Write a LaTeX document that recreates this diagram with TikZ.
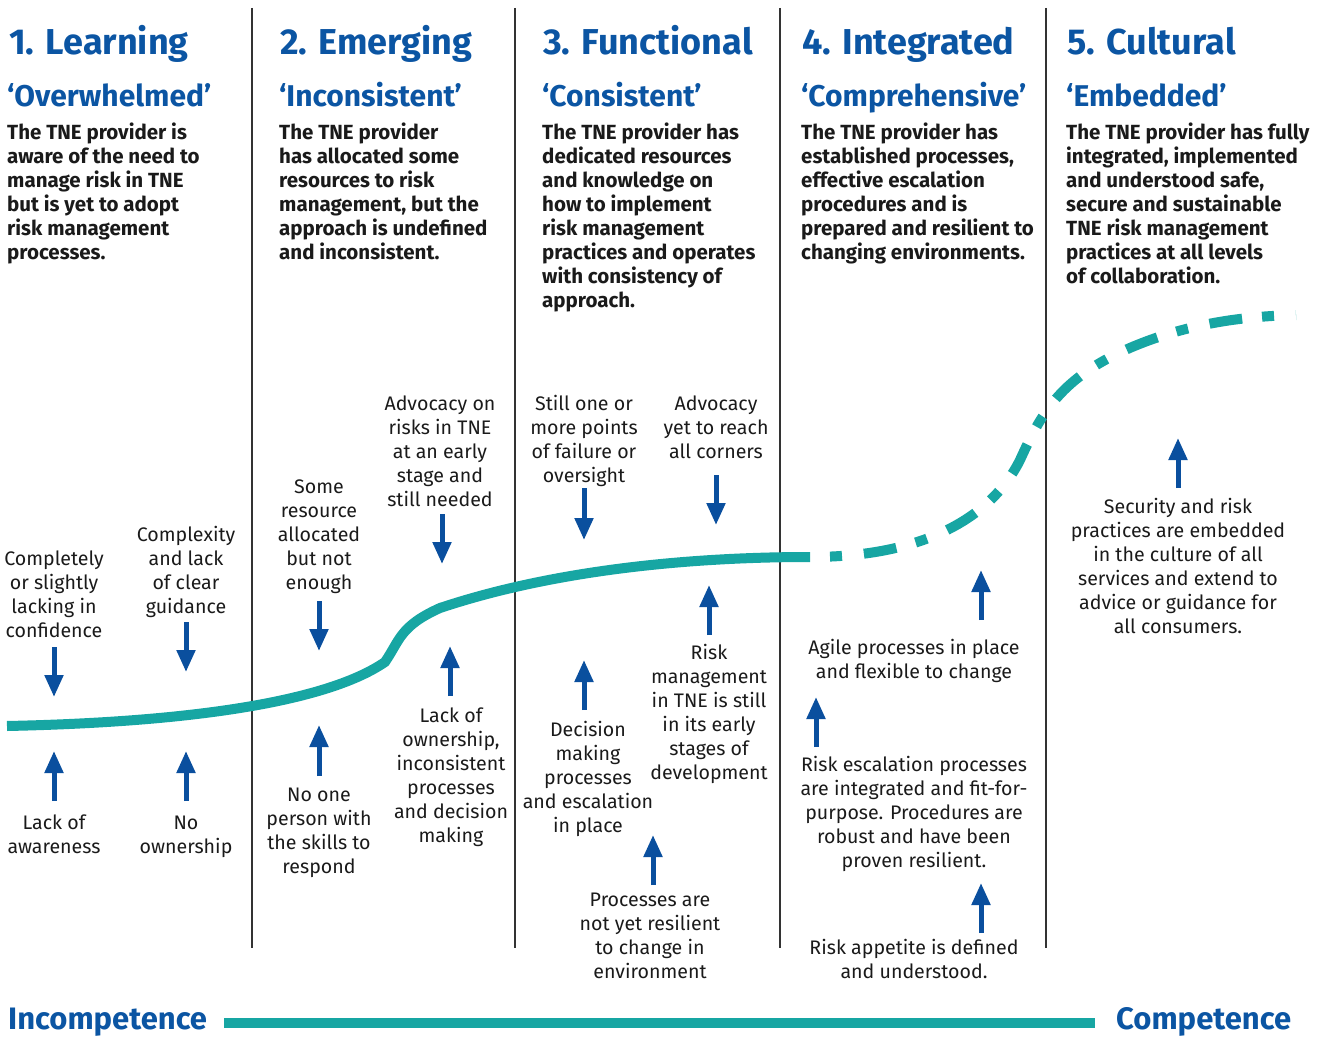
\documentclass[tikz,border=0pt]{standalone}
\usepackage{fontspec}
\setmainfont{Fira Sans}
\usetikzlibrary{arrows.meta}
\definecolor{tblue}{HTML}{0B55A3}
\definecolor{tealc}{HTML}{17A6A3}
\definecolor{ablue}{HTML}{0A4F9E}
\definecolor{txt}{HTML}{1A1A1A}
\begin{document}
\begin{tikzpicture}[x=1pt,y=-1pt,
 title/.style={font=\fontsize{36}{40}\selectfont\bfseries, text=tblue, anchor=base west, inner sep=0},
 subtitle/.style={font=\fontsize{30}{34}\selectfont\bfseries, text=tblue, anchor=base west, inner sep=0},
 desc/.style={font=\fontsize{20.5}{24}\selectfont\bfseries, text=txt, anchor=north west, align=left, inner sep=0},
 lbl/.style={font=\fontsize{19.6}{24}\selectfont, text=txt, anchor=north, align=center, inner sep=0},
 endlbl/.style={font=\fontsize{31}{34}\selectfont\bfseries, text=tblue, anchor=base west, inner sep=0},
 arr/.style={draw=ablue, line width=5pt, -{Triangle[width=18pt,length=22pt,fill=ablue]}},
 curvesolid/.style={draw=tealc, line width=10pt},
 curvedash/.style={draw=tealc, line width=10pt, dash pattern=on 33pt off 20pt on 12pt off 22pt, dash phase=33pt},
 divider/.style={draw=black!80, line width=1.3pt}
]
\path[use as bounding box] (0,0) rectangle (1328,1038);

% dividers
\foreach \i/\x in {1/252,2/515,3/780,4/1046}{
  \coordinate (dt\i) at (\x,8);
  \coordinate (db\i) at (\x,948);
  \draw[divider] (dt\i) -- (db\i);
}

% titles
\node[title] (t1) at (9,55) {1. Learning};
\node[title] (t2) at (280,55) {2. Emerging};
\node[title] (t3) at (543,55) {3. Functional};
\node[title] (t4) at (802,55) {4. Integrated};
\node[title] (t5) at (1067,55) {5. Cultural};

\node[subtitle] (s1) at (7,107) {‘Overwhelmed’};
\node[subtitle] (s2) at (279,107) {‘Inconsistent’};
\node[subtitle] (s3) at (542,107) {‘Consistent’};
\node[subtitle] (s4) at (801,107) {‘Comprehensive’};
\node[subtitle] (s5) at (1066,107) {‘Embedded’};

\node[desc] (d1) at (7,122) {\strut The TNE provider is\\aware of the need to\\manage risk in TNE\\but is yet to adopt\\risk management\\processes.};
\node[desc] (d2) at (279,122) {\strut The TNE provider\\has allocated some\\resources to risk\\management, but the\\approach is undefined\\and inconsistent.};
\node[desc] (d3) at (542,122) {\strut The TNE provider has\\dedicated resources\\and knowledge on\\how to implement\\risk management\\practices and operates\\with consistency of\\approach.};
\node[desc] (d4) at (801,122) {\strut The TNE provider has\\established processes,\\effective escalation\\procedures and is\\prepared and resilient to\\changing environments.};
\node[desc] (d5) at (1066,122) {\strut The TNE provider has fully\\integrated, implemented\\and understood safe,\\secure and sustainable\\TNE risk management\\practices at all levels\\of collaboration.};

% curve
\coordinate (c0) at (7,726);
\coordinate (c1) at (385,662);
\coordinate (c2) at (440,608);
\coordinate (c3) at (810,557);
\coordinate (c4) at (1020,460);
\coordinate (c5) at (1150,340);
\coordinate (c6) at (1296,315);
\draw[curvesolid] (c0) .. controls (200,722) and (330,700) .. (c1)
  .. controls (400,640) and (400,626) .. (c2)
  .. controls (560,568) and (700,557) .. (c3);
\draw[curvedash] (c3) .. controls (920,557) and (990,520) .. (c4)
  .. controls (1042,412) and (1062,372) .. (c5)
  .. controls (1200,322) and (1250,316) .. (c6);

% labels
\node[lbl] (l1) at (54,548) {\strut Completely\\or slightly\\lacking in\\confidence};
\node[lbl] (l2) at (186,524) {\strut Complexity\\and lack\\of clear\\guidance};
\node[lbl] (l3) at (54,812) {\strut Lack of\\awareness};
\node[lbl] (l4) at (186,812) {\strut No\\ownership};
\node[lbl] (l5) at (319,476) {\strut Some\\resource\\allocated\\but not\\enough};
\node[lbl] (l6) at (319,784) {\strut No one\\person with\\the skills to\\respond};
\node[lbl] (l7) at (440,393) {\strut Advocacy on\\risks in TNE\\at an early\\stage and\\still needed};
\node[lbl] (l8) at (451,705) {\strut Lack of\\ownership,\\inconsistent\\processes\\and decision\\making};
\node[lbl] (l9) at (584,393) {\strut Still one or\\more points\\of failure or\\oversight};
\node[lbl] (l10) at (716,393) {\strut Advocacy\\yet to reach\\all corners};
\node[lbl] (l11) at (709,642) {\strut Risk\\management\\in TNE is still\\in its early\\stages of\\development};
\node[lbl] (l12) at (588,719) {\strut Decision\\making\\processes\\and escalation\\in place};
\node[lbl] (l13) at (650,889) {\strut Processes are\\not yet resilient\\to change in\\environment};
\node[lbl] (l14) at (914,637) {\strut Agile processes in place\\and flexible to change};
\node[lbl] (l15) at (914,754) {\strut Risk escalation processes\\are integrated and fit-for-\\purpose. Procedures are\\robust and have been\\proven resilient.};
\node[lbl] (l16) at (914,937) {\strut Risk appetite is defined\\and understood.};
\node[lbl] (l17) at (1178,496) {\strut Security and risk\\practices are embedded\\in the culture of all\\services and extend to\\advice or guidance for\\all consumers.};

% arrows
\foreach \n/\x/\ya/\yb in {1/54/647/697, 2/186/622/672, 3/54/801/751, 4/186/801/751,
  5/319/601/651, 6/319/776/725, 7/442/514/564, 8/450/696/646, 9/584/488/540,
  10/716/475/525, 11/709/635/585, 12/584/710/660, 13/653/885/835, 14/981/620/570,
  15/816/747/697, 16/981/933/883, 17/1178/488/438}{
  \coordinate (as\n) at (\x,\ya);
  \coordinate (ae\n) at (\x,\yb);
  \draw[arr] (as\n) -- (ae\n);
}

% bottom scale
\node[endlbl] (inc) at (8,1029) {Incompetence};
\node[endlbl] (comp) at (1116,1029) {Competence};
\coordinate (bl) at (224,1023);
\coordinate (br) at (1095,1023);
\draw[draw=tealc, line width=10pt] (bl) -- (br);
\end{tikzpicture}
\end{document}
